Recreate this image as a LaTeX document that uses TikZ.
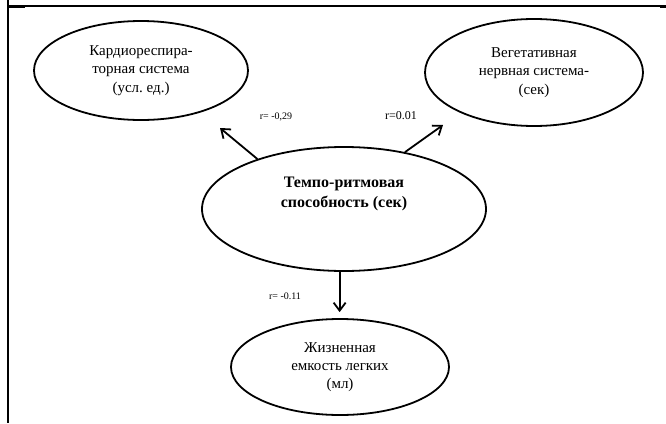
\documentclass[tikz,border=0pt]{standalone}
\usepackage{fontspec}
\setmainfont{Liberation Serif}
\usetikzlibrary{positioning,arrows.meta,shapes.geometric}
\frenchspacing

\begin{document}
\begin{tikzpicture}[
        x=1pt, y=-1pt,
        >={Straight Barb[length=8pt,width=12pt]},
        factor/.style={ellipse, draw=black, line width=1.8pt, align=center, inner sep=2pt, font=\fontsize{15}{18.3}\selectfont},
        main/.style={ellipse, draw=black, line width=1.8pt, minimum width=284pt, minimum height=124pt},
        arrow/.style={->, line width=1.8pt},
        coef/.style={inner sep=0pt, font=\fontsize{10}{12}\selectfont}
    ]
    \useasboundingbox (0,0) rectangle (666,423);
    % table frame
    \draw[line width=1.2pt] (8,6) -- (666,6);
    \draw[line width=2.4pt] (8,0) -- (8,423);
    \draw[line width=2.4pt] (8,6.5) -- (25,6.5);
    \draw[line width=2.4pt] (660,6.5) -- (666,6.5);

    \node[factor, minimum width=214pt, minimum height=99pt] (a) at (141,70.5) {Кардиореспира-\\торная система\\(усл. ед.)};
    \node[factor, minimum width=218pt, minimum height=107pt] (b) at (534,72.5) {Вегетативная\\нервная система-\\(сек)};
    \node[main] (c) at (344,209) {};
    \node[font=\fontsize{16}{20}\selectfont\bfseries, align=center] (ct) at ([yshift=15pt]c.center) {Темпо-ритмовая\\способность (сек)};
    \node[factor, minimum width=218pt, minimum height=96pt] (d) at (340,367) {Жизненная\\емкость легких\\(мл)};

    \coordinate (ta) at (220,128);
    \coordinate (tb) at (443,125);

    \draw[arrow] (c.150) -- (ta);
    \draw[arrow] (c.43) -- (tb);
    \draw[arrow, shorten >=6pt] (c.266) -- (c.266 |- d.north);

    \node[coef] (ra) at (276,117) {r= -0,29};
    \node[coef, font=\fontsize{12}{14}\selectfont] (rb) at (401,116) {r=0.01};
    \node[coef] (rd) at (285,296) {r= -0.11};
\end{tikzpicture}
\end{document}
